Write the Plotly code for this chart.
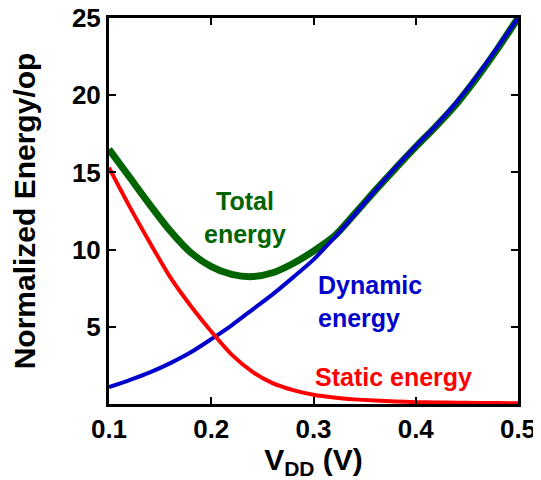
import plotly.graph_objects as go

vdd = [0.10, 0.12, 0.14, 0.16, 0.18, 0.20, 0.22, 0.24, 0.26, 0.28, 0.30,
       0.32, 0.34, 0.36, 0.38, 0.40, 0.42, 0.44, 0.46, 0.48, 0.50]
static_energy = [15.3, 12.8, 10.45, 8.2, 6.35, 4.7, 3.2, 2.1, 1.35, 0.9, 0.6,
                 0.42, 0.3, 0.22, 0.16, 0.12, 0.1, 0.08, 0.07, 0.06, 0.05]
dynamic_energy = [1.1, 1.55, 2.05, 2.65, 3.35, 4.2, 5.1, 6.1, 7.1, 8.2, 9.35,
                  10.75, 12.25, 13.8, 15.3, 16.7, 18.05, 19.55, 21.25, 23.1, 25.0]
total_energy = [16.5, 14.7, 12.9, 11.2, 9.8, 8.9, 8.4, 8.25, 8.5, 9.1, 9.9,
                10.85, 12.3, 13.8, 15.25, 16.65, 18.0, 19.45, 21.15, 23.0, 25.0]

x_ticks = [0.1, 0.2, 0.3, 0.4, 0.5]
x_ticklabels = ["0.1", "0.2", "0.3", "0.4", "0.5"]
y_ticks = [5, 10, 15, 20, 25]
y_ticklabels = ["5", "10", "15", "20", "25"]

FONT = "Liberation Sans, Arial, sans-serif"
GREEN = "#006400"
BLUE = "#0000CC"
RED = "#FF0000"

fig = go.Figure()
fig.add_trace(go.Scatter(x=vdd, y=total_energy, mode="lines",
                         line=dict(color=GREEN, width=7, shape="spline", smoothing=0.8),
                         showlegend=False))
fig.add_trace(go.Scatter(x=vdd, y=dynamic_energy, mode="lines",
                         line=dict(color=BLUE, width=4, shape="spline", smoothing=0.8),
                         showlegend=False))
fig.add_trace(go.Scatter(x=vdd, y=static_energy, mode="lines",
                         line=dict(color=RED, width=4, shape="spline", smoothing=0.8),
                         showlegend=False))

ann_font = dict(family=FONT, size=25, weight="bold")
fig.add_annotation(x=0.233, y=12.07, text="Total<br>energy", showarrow=False,
                   xanchor="center", yanchor="middle", align="center",
                   font=dict(color=GREEN, **ann_font))
fig.add_annotation(x=0.3024, y=6.64, text="Dynamic<br>energy", showarrow=False,
                   xanchor="left", yanchor="middle", align="left",
                   font=dict(color=BLUE, **ann_font))
fig.add_annotation(x=0.2995, y=1.73, text="Static energy", showarrow=False,
                   xanchor="left", yanchor="middle", align="left",
                   font=dict(color=RED, **ann_font))

fig.update_layout(
    width=533, height=472,
    margin=dict(l=101, r=23, t=10, b=76),
    plot_bgcolor="white", paper_bgcolor="white",
    font=dict(family=FONT, color="black"),
)
fig.update_xaxes(
    range=[0.1, 0.5], tickvals=x_ticks, ticktext=x_ticklabels,
    automargin=False, ticklabeloverflow="allow",
    showgrid=False, zeroline=False,
    showline=True, linecolor="black", linewidth=3, mirror="ticks",
    ticks="inside", ticklen=7, tickwidth=2, tickcolor="black",
    tickfont=dict(family=FONT, size=26, weight="bold"),
    title=dict(text="V<sub>DD</sub> (V)", font=dict(family=FONT, size=30, weight="bold"),
               standoff=2),
)
fig.update_yaxes(
    range=[0, 25], tickvals=y_ticks, ticktext=y_ticklabels,
    automargin=False, ticklabeloverflow="allow",
    showgrid=False, zeroline=False,
    showline=True, linecolor="black", linewidth=3, mirror="ticks",
    ticks="inside", ticklen=7, tickwidth=2, tickcolor="black",
    tickfont=dict(family=FONT, size=26, weight="bold"),
    title=dict(text="Normalized Energy/op", font=dict(family=FONT, size=30, weight="bold"),
               standoff=30),
)

fig.write_html("out.html")
